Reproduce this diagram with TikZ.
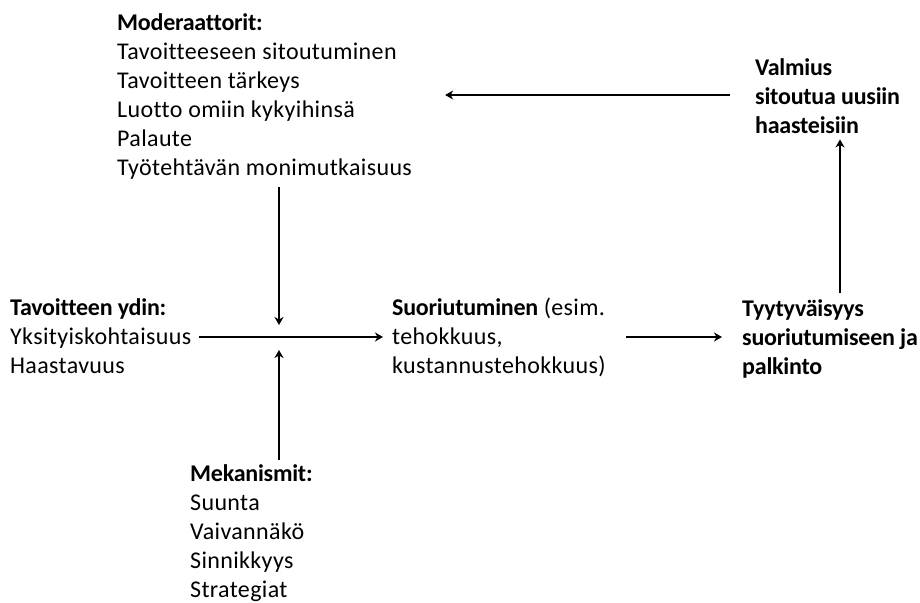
\documentclass[tikz,border=0pt]{standalone}
\usepackage{fontspec}
\setmainfont{Carlito}[LetterSpace=1.5,Ligatures=NoCommon,
  BoldFeatures={LetterSpace=-1}]
\usetikzlibrary{arrows.meta}
\begin{document}
\begin{tikzpicture}[x=1pt,y=-1pt,
  txt/.style={anchor=north west,inner sep=0pt,align=left,
    font=\fontsize{24}{29}\selectfont},
  arr/.style={line width=1.5pt,-{Stealth[length=8pt,width=9pt,inset=2.5pt]}}]
\useasboundingbox (0,0) rectangle (920,602);

% text blocks
\node[txt] (mod) at (117,13) {\textbf{Moderaattorit:}\\Tavoitteeseen sitoutuminen\\Tavoitteen tärkeys\\Luotto omiin kykyihinsä\\Palaute\\Työtehtävän monimutkaisuus};
\node[txt] (valm) at (755,58) {\textbf{Valmius}\\\textbf{sitoutua uusiin}\\\textbf{haasteisiin}};
\node[txt] (ydin) at (10,298) {\textbf{Tavoitteen ydin:}\\Yksityiskohtaisuus\\Haastavuus};
\node[txt] (suor) at (392,298) {\textbf{Suoriutuminen} (esim.\\tehokkuus,\\kustannustehokkuus)};
\node[txt] (tyyt) at (742,299) {\textbf{Tyytyväisyys}\\\textbf{suoriutumiseen ja}\\\textbf{palkinto}};
\node[txt] (mek) at (190,464) {\textbf{Mekanismit:}\\Suunta\\Vaivannäkö\\Sinnikkyys\\Strategiat};

% junction and guide points
\coordinate (j) at (279,337);
\coordinate (rx) at (840,0);
\coordinate (ty) at (0,95);

% connectors
\draw[arr,shorten <=8pt,shorten >=9pt] (ydin.east |- j) -- (suor.west |- j);
\draw[arr,shorten <=20pt,shorten >=20pt] (suor.east |- j) -- (tyyt.west |- j);
\draw[arr,shorten <=8pt,shorten >=12pt] (j |- mod.south) -- (j);
\draw[arr,shorten <=4pt,shorten >=13pt] (j |- mek.north) -- (j);
\draw[arr,shorten <=6pt,shorten >=6pt] (tyyt.north -| rx) -- (valm.south -| rx);
\draw[arr,shorten <=25pt,shorten >=33pt] (valm.west |- ty) -- (mod.east |- ty);
\end{tikzpicture}
\end{document}
